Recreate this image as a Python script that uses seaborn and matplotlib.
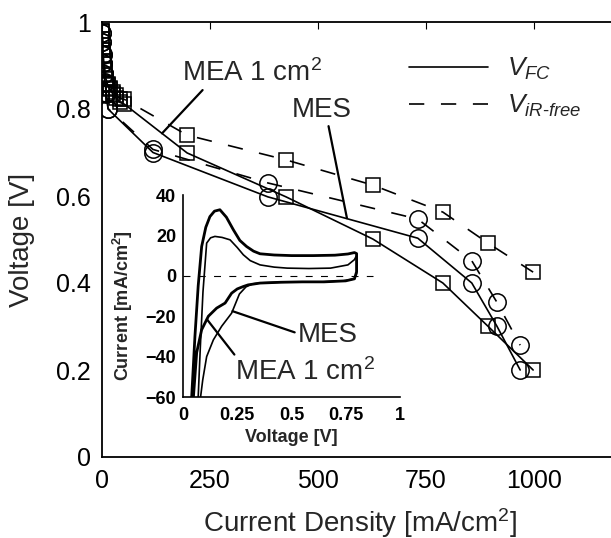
import numpy as np
import pandas as pd
import matplotlib
matplotlib.use("Agg")
import matplotlib.pyplot as plt
from matplotlib.lines import Line2D
import seaborn as sns

# ---------------- data ----------------
# MES (circles)
mes_j = [0, 1, 2, 3, 5, 7, 10, 14, 118, 384, 731, 856, 914, 968]
mes_vfc = [0.975, 0.955, 0.925, 0.905, 0.88, 0.86, 0.835, 0.80, 0.70, 0.598, 0.503, 0.400, 0.301, 0.200]
mes_vir = [0.975, 0.955, 0.926, 0.906, 0.881, 0.861, 0.836, 0.801, 0.707, 0.630, 0.547, 0.451, 0.356, 0.257]
# MEA 1 cm2 (squares)
mea_j = [0, 1, 2, 4, 6, 9, 13, 18, 25, 33, 42, 52, 197, 426, 627, 789, 893, 998]
mea_vfc = [0.98, 0.96, 0.935, 0.91, 0.89, 0.87, 0.855, 0.845, 0.835, 0.825, 0.815, 0.811,
           0.699, 0.598, 0.501, 0.400, 0.301, 0.200]
mea_vir = [0.98, 0.96, 0.935, 0.911, 0.891, 0.872, 0.858, 0.849, 0.840, 0.832, 0.824, 0.822,
           0.740, 0.683, 0.625, 0.563, 0.492, 0.425]

# inset cyclic voltammograms
cv_a_v = [0.040, 0.055, 0.070, 0.086, 0.105, 0.124, 0.145, 0.170, 0.20, 0.232, 0.262, 0.293,
          0.325, 0.355, 0.42, 0.50, 0.60, 0.70, 0.76, 0.79, 0.80, 0.80, 0.79, 0.75, 0.65, 0.55,
          0.45, 0.355, 0.30, 0.278, 0.250, 0.224, 0.194, 0.155, 0.117, 0.086, 0.063, 0.048]
cv_a_i = [-60, -30, -5, 14.5, 24, 29.3, 32, 32.7, 29, 22.8, 17.5, 14.5, 12.2, 10.9, 10.3, 10,
          10, 10.2, 10.8, 11.5, 11, 2, -1.5, -2.5, -3, -3, -3.2, -3.6, -4.5, -5.3, -6.5, -8.6,
          -13.5, -16, -20, -26.7, -38, -60]
cv_b_v = [0.070, 0.080, 0.092, 0.109, 0.127, 0.147, 0.18, 0.217, 0.25, 0.278, 0.31, 0.355,
          0.42, 0.48, 0.58, 0.68, 0.76, 0.79, 0.80, 0.80, 0.79, 0.74, 0.64, 0.54, 0.44, 0.36,
          0.32, 0.29, 0.26, 0.224, 0.178, 0.14, 0.109, 0.091, 0.081]
cv_b_i = [-60, -35, -8, 16.2, 18.8, 19.5, 19, 17.8, 14, 10.4, 7.5, 5.4, 4.3, 3.8, 3.6, 3.8,
          5.4, 8, 10, 1, -1.5, -2.5, -3, -3, -3.2, -3.5, -4, -5.5, -9, -18.5, -25, -31.7,
          -40, -51.5, -60]

x_ticks = [0, 250, 500, 750, 1000]
x_ticklabels = ["0", "250", "500", "750", "1000"]
y_ticks = [0, 0.2, 0.4, 0.6, 0.8, 1.0]
y_ticklabels = ["0", "0.2", "0.4", "0.6", "0.8", "1"]
in_x_ticks = [0, 0.25, 0.5, 0.75, 1]
in_x_ticklabels = ["0", "0.25", "0.5", "0.75", "1"]
in_y_ticks = [-60, -40, -20, 0, 20, 40]
in_y_ticklabels = ["\u221260", "\u221240", "\u221220", "0", "20", "40"]

# ---------------- style ----------------
sns.set_style("white")
plt.rcParams["font.family"] = ["Liberation Sans", "DejaVu Sans"]
plt.rcParams["mathtext.fontset"] = "custom"
plt.rcParams["mathtext.rm"] = "Liberation Sans"
plt.rcParams["mathtext.it"] = "Liberation Sans:italic"
plt.rcParams["mathtext.bf"] = "Liberation Sans:bold"
plt.rcParams["lines.scale_dashes"] = False
plt.rcParams["axes.edgecolor"] = "black"

W, H = 611, 538
fig = plt.figure(figsize=(W / 100, H / 100), dpi=100)
ax = fig.add_axes([102 / W, 1 - 457 / H, 1200 * 0.432 / W, 435 / H])

dash = (0, (11, 12))
lw = 1.2
common = dict(ax=ax, color="black", sort=False, estimator=None, lw=lw,
              mfc="none", mec="black", mew=1.1, legend=False)

sns.lineplot(x=mes_j, y=mes_vfc, marker="o", ms=12.5, linestyle="-", **common)
sns.lineplot(x=mes_j, y=mes_vir, marker="o", ms=12.5, linestyle=dash, **common)
sns.lineplot(x=mea_j, y=mea_vfc, marker="s", ms=10.5, linestyle="-", **common)
sns.lineplot(x=mea_j, y=mea_vir, marker="s", ms=10.5, linestyle=dash, **common)

ax.set_xlim(0, 1200)
ax.set_ylim(0, 1)
ax.set_xticks(x_ticks)
ax.set_xticklabels(x_ticklabels)
ax.set_yticks(y_ticks)
ax.set_yticklabels(y_ticklabels)
ax.tick_params(direction="in", length=5, width=0.8, labelsize=18, top=True, right=True,
               colors="black")
ax.tick_params(axis="x", pad=9)
ax.tick_params(axis="y", pad=8)
for s in ax.spines.values():
    s.set_linewidth(1.3)
    s.set_color("black")
ax.set_xlabel("Current Density [mA/cm$^2$]", fontsize=20)
ax.set_ylabel("Voltage [V]", fontsize=20)
ax.xaxis.set_label_coords(0.498, -0.112)
ax.yaxis.set_label_coords(-0.13, 0.5)

handles = [Line2D([], [], color="black", lw=lw, linestyle="-"),
           Line2D([], [], color="black", lw=lw, linestyle=dash)]
ax.legend(handles, ["$V_{FC}$", "$V_{iR\\text{-}free}$"], loc="upper left",
          bbox_to_anchor=(409 / W, 1 - 56 / H), bbox_transform=fig.transFigure,
          frameon=False, fontsize=19, handlelength=3.0, handletextpad=0.7,
          borderpad=0, borderaxespad=0, labelspacing=0.4)

arrow = dict(arrowstyle="-", lw=1.6, color="black", shrinkA=0, shrinkB=0)
ax.annotate("MEA 1 cm$^{2}$", xy=(139, 0.744), xytext=(347, 0.883), fontsize=20,
            ha="center", va="center", arrowprops=dict(arrow, relpos=(0.17, 0.0)))
ax.annotate("MES", xy=(567, 0.549), xytext=(509, 0.798), fontsize=20,
            ha="center", va="center", arrowprops=dict(arrow, relpos=(0.6, 0.0)))

# ---------------- inset ----------------
axi = fig.add_axes([183 / W, 1 - 397 / H, 217 / W, 202 / H])
axi.set_facecolor("none")
sns.lineplot(x=cv_a_v, y=cv_a_i, ax=axi, color="black", lw=2.0, sort=False, estimator=None)
sns.lineplot(x=cv_b_v, y=cv_b_i, ax=axi, color="black", lw=1.2, sort=False, estimator=None)
axi.axhline(0, xmin=0, xmax=0.875, color="black", lw=0.8, linestyle=(0, (5, 6)))
axi.set_xlim(0, 1)
axi.set_ylim(-60, 40)
axi.set_xticks(in_x_ticks)
axi.set_xticklabels(in_x_ticklabels)
axi.set_yticks(in_y_ticks)
axi.set_yticklabels(in_y_ticklabels)
axi.tick_params(direction="in", length=3, width=0.8, labelsize=13, colors="black")
axi.tick_params(axis="x", pad=7)
axi.tick_params(axis="y", pad=5)
for lab in axi.get_xticklabels() + axi.get_yticklabels():
    lab.set_fontweight("bold")
for side in ["top", "right"]:
    axi.spines[side].set_visible(False)
for side in ["left", "bottom"]:
    axi.spines[side].set_linewidth(1.2)
    axi.spines[side].set_color("black")
axi.set_xlabel("Voltage [V]", fontsize=13, fontweight="bold")
axi.set_ylabel("Current [mA/cm$^\\mathbf{2}$]", fontsize=13, fontweight="bold")
axi.xaxis.set_label_coords(0.5, -0.16)
axi.yaxis.set_label_coords(-0.22, 0.45)

axi.annotate("MES", xy=(0.228, -17.5), xytext=(0.668, -29.2), fontsize=20,
             ha="center", va="center", arrowprops=dict(arrow, relpos=(0.0, 0.55)))
axi.annotate("MEA 1 cm$^{2}$", xy=(0.11, -21.5), xytext=(0.562, -47.5), fontsize=20,
             ha="center", va="center", arrowprops=dict(arrow, relpos=(0.03, 0.9)))

fig.savefig("out.png", dpi=100)
